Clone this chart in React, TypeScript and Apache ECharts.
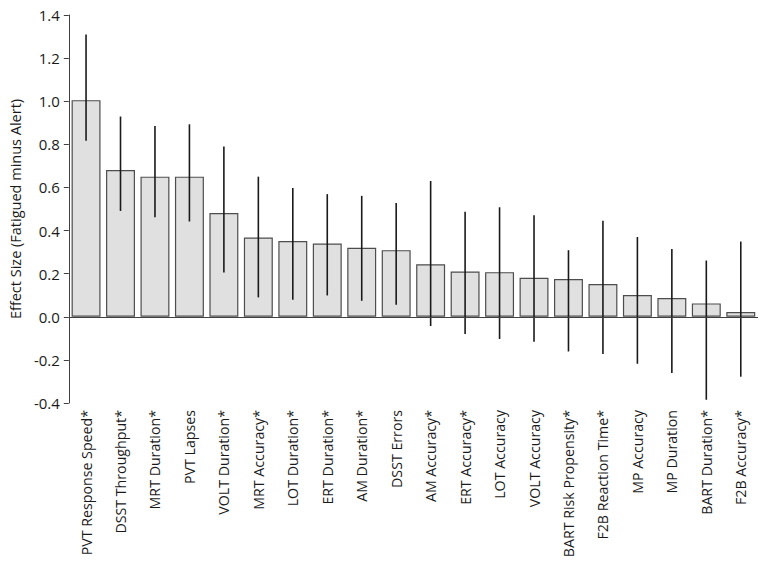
import React, { useEffect, useRef } from "react";
import * as echarts from "echarts";

const categories = [
  "PVT Response Speed*",
  "DSST Throughput*",
  "MRT Duration*",
  "PVT Lapses",
  "VOLT Duration*",
  "MRT Accuracy*",
  "LOT Duration*",
  "ERT Duration*",
  "AM Duration*",
  "DSST Errors",
  "AM Accuracy*",
  "ERT Accuracy*",
  "LOT Accuracy",
  "VOLT Accuracy",
  "BART Risk Propensity*",
  "F2B Reaction Time*",
  "MP Accuracy",
  "MP Duration",
  "BART Duration*",
  "F2B Accuracy*",
];

const effectSizes = [
  1.005, 0.681, 0.65, 0.65, 0.481, 0.368, 0.351, 0.34, 0.32, 0.309, 0.244, 0.21,
  0.207, 0.181, 0.175, 0.152, 0.101, 0.087, 0.062, 0.022,
];

const ciLower = [
  0.817, 0.491, 0.462, 0.442, 0.205, 0.09, 0.079, 0.099, 0.074, 0.056, -0.043,
  -0.08, -0.103, -0.116, -0.161, -0.173, -0.218, -0.261, -0.385, -0.278,
];

const ciUpper = [
  1.31, 0.929, 0.885, 0.893, 0.79, 0.65, 0.597, 0.569, 0.561, 0.528, 0.63, 0.487,
  0.508, 0.471, 0.309, 0.445, 0.37, 0.314, 0.261, 0.349,
];

const yTicks = { min: -0.4, max: 1.4, interval: 0.2 };

const FONT = "'Open Sans', Lato, sans-serif";

export default function App() {
  const ref = useRef<HTMLDivElement>(null);

  useEffect(() => {
    if (!ref.current) return;
    const chart = echarts.init(ref.current, undefined, { renderer: "svg" });
    const errData = categories.map((_, i) => [i, ciLower[i], ciUpper[i]]);
    chart.setOption({
      animation: false,
      backgroundColor: "#ffffff",
      grid: { left: 67, right: 11, top: 15, bottom: 164, containLabel: false },
      xAxis: {
        type: "category",
        data: categories,
        axisLine: { show: false, onZero: false },
        axisTick: { show: false },
        axisLabel: {
          rotate: 90,
          margin: 7,
          interval: 0,
          color: "#1a1a1a",
          fontFamily: FONT,
          fontSize: 14.2,
        },
        splitLine: { show: false },
      },
      yAxis: {
        type: "value",
        min: yTicks.min,
        max: yTicks.max,
        interval: yTicks.interval,
        name: "Effect Size (Fatigued minus Alert)",
        nameLocation: "middle",
        nameGap: 44,
        nameTextStyle: { color: "#1a1a1a", fontFamily: FONT, fontSize: 14.5 },
        axisLine: { show: true, lineStyle: { color: "#404040", width: 1 } },
        axisTick: { show: true, inside: false, length: 5, lineStyle: { color: "#404040" } },
        axisLabel: {
          margin: 9,
          color: "#1a1a1a",
          fontFamily: FONT,
          fontSize: 15,
          formatter: (v: number) => v.toFixed(1),
        },
        splitLine: { show: false },
      },
      series: [
        {
          type: "bar",
          data: effectSizes,
          barCategoryGap: "16%",
          itemStyle: { color: "#e0e0e0", borderColor: "#4d4d4d", borderWidth: 1.2 },
          markLine: {
            silent: true,
            symbol: "none",
            label: { show: false },
            lineStyle: { color: "#404040", width: 1, type: "solid" },
            data: [{ yAxis: 0 }],
          },
          z: 2,
        },
        {
          type: "custom",
          data: errData,
          z: 3,
          renderItem: (params: any, api: any) => {
            const x = api.value(0);
            const p1 = api.coord([x, api.value(1)]);
            const p2 = api.coord([x, api.value(2)]);
            return {
              type: "line",
              shape: { x1: p1[0], y1: p1[1], x2: p2[0], y2: p2[1] },
              style: { stroke: "#1a1a1a", lineWidth: 1.6 },
            };
          },
        },
      ],
    });
    return () => chart.dispose();
  }, []);

  return (
    <div
      ref={ref}
      style={{ position: "fixed", left: 0, top: 0, width: 769, height: 567 }}
    />
  );
}
